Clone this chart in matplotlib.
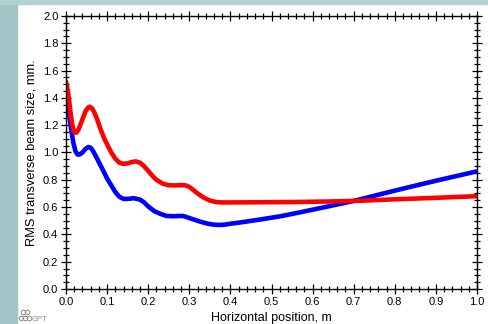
import matplotlib
matplotlib.use("Agg")
import matplotlib.pyplot as plt
from matplotlib.patches import Rectangle
from matplotlib.lines import Line2D
from matplotlib.ticker import MultipleLocator

plt.rcParams['font.family'] = ['Liberation Sans', 'DejaVu Sans']

# values
blue_x = [0.0, 0.004, 0.008, 0.013, 0.018, 0.023, 0.028, 0.033, 0.04, 0.047, 0.054,
          0.06, 0.066, 0.073, 0.08, 0.09, 0.1, 0.11, 0.12, 0.13, 0.14, 0.15, 0.165,
          0.18, 0.19, 0.2, 0.215, 0.23, 0.245, 0.26, 0.275, 0.285, 0.295, 0.31, 0.325,
          0.34, 0.355, 0.37, 0.385, 0.4, 0.43, 0.47, 0.52, 0.57, 0.63, 0.7, 0.77, 0.84,
          0.91, 1.0]
blue_y = [1.50, 1.38, 1.27, 1.16, 1.07, 1.01, 0.985, 0.985, 1.00, 1.025, 1.04,
          1.035, 1.01, 0.97, 0.93, 0.87, 0.81, 0.76, 0.71, 0.675, 0.66, 0.66, 0.665,
          0.655, 0.635, 0.605, 0.57, 0.55, 0.535, 0.533, 0.535, 0.535, 0.525, 0.51, 0.495,
          0.482, 0.473, 0.469, 0.471, 0.478, 0.49, 0.508, 0.532, 0.562, 0.6, 0.645, 0.698, 0.75,
          0.8, 0.862]

red_x = [0.0, 0.004, 0.008, 0.012, 0.016, 0.02, 0.025, 0.03, 0.036, 0.042, 0.048,
         0.054, 0.058, 0.063, 0.068, 0.075, 0.083, 0.092, 0.1, 0.11, 0.12, 0.13, 0.14,
         0.15, 0.16, 0.17, 0.18, 0.19, 0.2, 0.21, 0.22, 0.235, 0.25, 0.265, 0.28, 0.29,
         0.3, 0.31, 0.32, 0.335, 0.35, 0.365, 0.38, 0.45, 0.55, 0.64, 0.72, 0.8, 0.9, 1.0]
red_y = [1.52, 1.46, 1.37, 1.27, 1.19, 1.15, 1.145, 1.165, 1.21, 1.26, 1.305,
         1.33, 1.335, 1.325, 1.30, 1.25, 1.18, 1.11, 1.06, 1.0, 0.955, 0.925, 0.917,
         0.92, 0.93, 0.935, 0.925, 0.9, 0.865, 0.83, 0.8, 0.772, 0.76, 0.759, 0.761, 0.76,
         0.748, 0.725, 0.7, 0.67, 0.648, 0.637, 0.634, 0.635, 0.637, 0.641, 0.647, 0.657, 0.668, 0.68]

fig = plt.figure(figsize=(4.89, 3.24), dpi=100, facecolor='white')

# slide background strips
fig.patches.append(Rectangle((0, 0), 17 / 489, 1, transform=fig.transFigure,
                             color='#a2c4c4', zorder=0))
fig.patches.append(Rectangle((0, 1 - 4 / 324), 1, 4 / 324, transform=fig.transFigure,
                             color='#b4d0cf', zorder=0))

ax = fig.add_axes([66 / 489, 35 / 324, 411 / 489, 273 / 324])
ax.plot(blue_x, blue_y, color='#0000ff', lw=3.3, solid_capstyle='round')
ax.plot(red_x, red_y, color='#ff0000', lw=3.3, solid_capstyle='round')

ax.set_xlim(0, 1.0)
ax.set_ylim(0, 2.0)
ax.xaxis.set_major_locator(MultipleLocator(0.1))
ax.xaxis.set_minor_locator(MultipleLocator(0.02))
ax.yaxis.set_major_locator(MultipleLocator(0.2))
ax.yaxis.set_minor_locator(MultipleLocator(0.05))
ax.tick_params(which='both', direction='inout', top=True, right=True,
               labelsize=8, pad=2, width=0.9)
ax.tick_params(which='major', length=7)
ax.tick_params(which='minor', length=4)
ax.xaxis.set_major_formatter(plt.FuncFormatter(lambda v, p: f"{v:.1f}"))
ax.yaxis.set_major_formatter(plt.FuncFormatter(lambda v, p: f"{v:.1f}"))
for s in ax.spines.values():
    s.set_linewidth(1.0)

ax.set_xlabel("Horizontal position, m", fontsize=9, labelpad=4)
ax.set_ylabel("RMS transverse beam size, mm.", fontsize=9.3, labelpad=4)

# small GPT logo bottom left
for cx, cy in [(23, 312), (27, 312), (21, 318), (25, 318), (29, 318)]:
    fig.lines.append(Line2D([cx / 489], [1 - cy / 324], transform=fig.transFigure,
                            marker='o', ms=3.3, mfc='none', mec='#8a8a8a', mew=0.7))
fig.text(32 / 489, 1 - 321 / 324, "GPT", fontsize=5.5, color='#8a8a8a')

fig.savefig("out.png", dpi=100, facecolor=fig.get_facecolor())
